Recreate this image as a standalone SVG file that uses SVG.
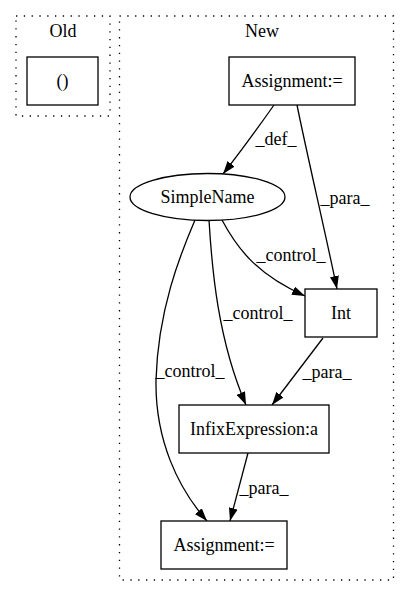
<svg xmlns="http://www.w3.org/2000/svg" width="409" height="596" viewBox="0 0 409 596">
<defs>
<style>
text{font-family:"Liberation Serif","Times New Roman",serif;font-size:18px;fill:#000;text-anchor:middle}
.cl{fill:none;stroke:#000;stroke-width:1.3;stroke-dasharray:1.3,6.5}
.n{fill:#fff;stroke:#000;stroke-width:1.3}
.e{fill:none;stroke:#000;stroke-width:1.3}
</style>
<marker id="ah" markerWidth="13" markerHeight="9" refX="13" refY="4.5" orient="auto" markerUnits="userSpaceOnUse">
<path d="M0,0 L13,4.5 L0,9 z" fill="#000"/>
</marker>
</defs>
<rect width="409" height="596" fill="#fff"/>
<g id="cluster_old">
<rect class="cl" x="16" y="16" width="94" height="100"/>
<text x="63" y="37">Old</text>
</g>
<g id="cluster_new">
<rect class="cl" x="119.5" y="16" width="274" height="564"/>
<text x="262" y="37">New</text>
</g>
<g id="connectors">
<path class="e" d="M274,105 C262,122 238,155 223,174" marker-end="url(#ah)"/>
<text x="276" y="145">_def_</text>
<path class="e" d="M297,105 C306,150 327,240 337,289" marker-end="url(#ah)"/>
<text x="345" y="204">_para_</text>
<path class="e" d="M222,220 C238,250 258,275 305,296" marker-end="url(#ah)"/>
<text x="291" y="261">_control_</text>
<path class="e" d="M209,220 C212,270 218,340 246,405" marker-end="url(#ah)"/>
<text x="258" y="319">_control_</text>
<path class="e" d="M195,220 C180,255 158,310 156,380 C155,440 178,488 207,521" marker-end="url(#ah)"/>
<text x="190" y="377">_control_</text>
<path class="e" d="M323,338 L272,405" marker-end="url(#ah)"/>
<text x="327" y="378">_para_</text>
<path class="e" d="M248,453 L230,521" marker-end="url(#ah)"/>
<text x="264" y="494">_para_</text>
</g>
<g id="old_paren">
<rect class="n" x="27" y="57" width="71" height="48"/>
<text x="62.5" y="87">()</text>
</g>
<g id="assign_top">
<rect class="n" x="229" y="57" width="126" height="48"/>
<text x="292" y="87">Assignment:=</text>
</g>
<g id="simplename">
<ellipse class="n" cx="207.5" cy="197" rx="77.5" ry="23.5"/>
<text x="207.5" y="203">SimpleName</text>
</g>
<g id="int">
<rect class="n" x="305" y="289" width="72" height="48"/>
<text x="341" y="319">Int</text>
</g>
<g id="infix">
<rect class="n" x="179" y="405" width="150" height="48"/>
<text x="254" y="435">InfixExpression:a</text>
</g>
<g id="assign_bottom">
<rect class="n" x="161" y="521" width="126" height="48"/>
<text x="224" y="551">Assignment:=</text>
</g>
</svg>
